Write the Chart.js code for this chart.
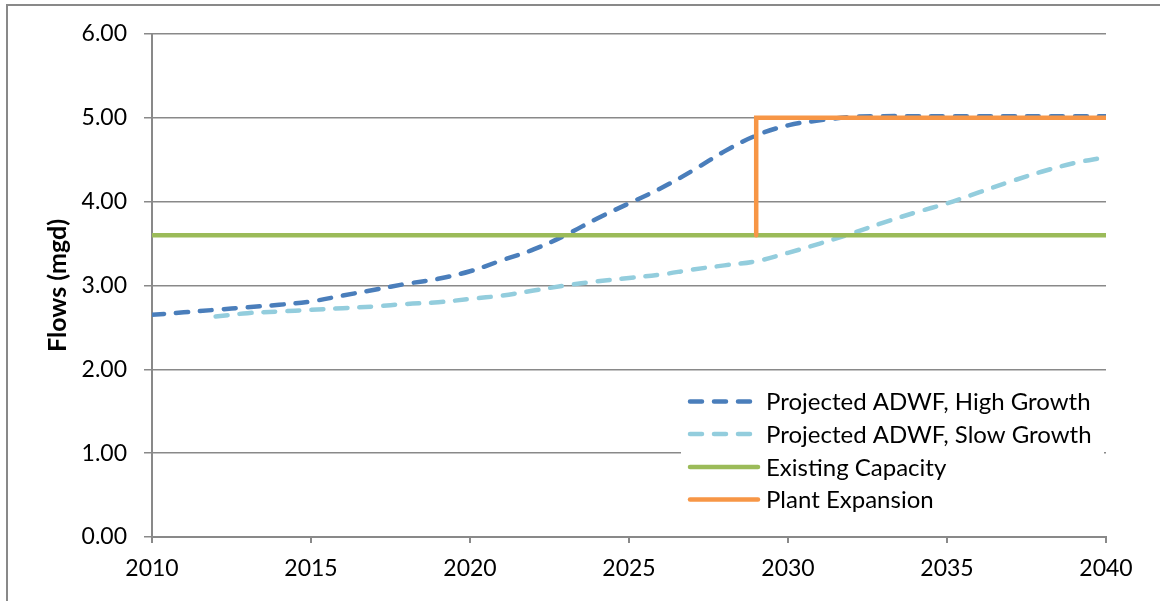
<!DOCTYPE html>
<html>
<head>
<meta charset="utf-8">
<title>Projected ADWF and Plant Capacity</title>
<script src="https://cdn.jsdelivr.net/npm/chart.js@4.4.1/dist/chart.umd.min.js"></script>
<style>
  html, body { margin: 0; padding: 0; background: #ffffff; }
  #wrap { width: 1160px; height: 601px; position: relative; overflow: hidden; }
  canvas { display: block; }
</style>
</head>
<body>
<div id="wrap"><canvas id="flows" width="1160" height="601"></canvas></div>
<script>
// ---- data ----
const years = [2010, 2011, 2012, 2013, 2014, 2015, 2016, 2017, 2018, 2019, 2020,
               2021, 2022, 2023, 2024, 2025, 2026, 2027, 2028, 2029, 2030,
               2031, 2032, 2033, 2034, 2035, 2036, 2037, 2038, 2039, 2040];
const highGrowth = [2.65, 2.68, 2.71, 2.74, 2.77, 2.81, 2.88, 2.95, 3.02, 3.08, 3.17,
                    3.30, 3.43, 3.60, 3.80, 3.98, 4.16, 4.37, 4.60, 4.79, 4.91,
                    4.97, 5.01, 5.02, 5.02, 5.02, 5.02, 5.02, 5.02, 5.02, 5.02];
const slowYears = [2012, 2013, 2014, 2015, 2016, 2017, 2018, 2019, 2020,
                   2021, 2022, 2023, 2024, 2025, 2026, 2027, 2028, 2029, 2030,
                   2031, 2032, 2033, 2034, 2035, 2036, 2037, 2038, 2039, 2040];
const slowGrowth = [2.63, 2.67, 2.69, 2.71, 2.73, 2.75, 2.78, 2.80, 2.84,
                    2.88, 2.94, 3.00, 3.05, 3.09, 3.13, 3.19, 3.24, 3.29, 3.39,
                    3.50, 3.62, 3.75, 3.87, 3.98, 4.11, 4.24, 4.36, 4.46, 4.53];
const capacityYears = [2010, 2040];
const capacity = [3.6, 3.6];
const expansionYears = [2029, 2029, 2040];
const expansion = [3.6, 5.0, 5.0];

const seriesNames = ['Projected ADWF, High Growth', 'Projected ADWF, Slow Growth',
                     'Existing Capacity', 'Plant Expansion'];
const xTickLabels = [2010, 2015, 2020, 2025, 2030, 2035, 2040];
const yTickLabels = [0, 1, 2, 3, 4, 5, 6];
const yAxisTitle = 'Flows (mgd)';

// ---- helpers ----
const toPoints = (xs, ys) => xs.map((x, i) => ({ x: x, y: ys[i] }));
const GRID = '#898989';
const FONT = 'Lato, "Open Sans", sans-serif';

// outer frame around the chart
const frame = {
  id: 'frame',
  beforeDraw(chart) {
    const ctx = chart.ctx;
    ctx.save();
    ctx.fillStyle = '#ffffff';
    ctx.fillRect(0, 0, chart.width, chart.height);
    ctx.strokeStyle = GRID;
    ctx.lineWidth = 2;
    ctx.strokeRect(7, 5, chart.width + 20, chart.height + 20);
    ctx.restore();
  }
};

// legend drawn inside the plot, lower right
const insideLegend = {
  id: 'insideLegend',
  afterDraw(chart) {
    const ctx = chart.ctx;
    const rows = [401.5, 434, 467, 499.5];
    const x0 = 690, x1 = 758, tx = 766;
    ctx.save();
    ctx.fillStyle = '#ffffff';
    ctx.fillRect(681, 384, 423, 130);
    chart.data.datasets.forEach((ds, i) => {
      const y = rows[i];
      ctx.beginPath();
      ctx.strokeStyle = ds.borderColor;
      ctx.lineWidth = ds.borderWidth;
      ctx.lineCap = 'round';
      ctx.setLineDash(ds.borderDash || []);
      ctx.moveTo(x0, y);
      ctx.lineTo(ds.borderDash ? 751 : x1, y);
      ctx.stroke();
      ctx.setLineDash([]);
      ctx.fillStyle = '#000000';
      ctx.font = '24px ' + FONT;
      ctx.textBaseline = 'middle';
      ctx.textAlign = 'left';
      ctx.fillText(ds.label, tx, y + 1);
    });
    ctx.restore();
  }
};

const dashed = { borderWidth: 4.5, borderDash: [12, 12], borderCapStyle: 'round',
                 tension: 0.4, pointRadius: 0, fill: false };
const solid = { borderWidth: 4.5, borderCapStyle: 'round', tension: 0,
                pointRadius: 0, fill: false };

new Chart(document.getElementById('flows'), {
  type: 'line',
  data: {
    datasets: [
      Object.assign({ label: seriesNames[0], data: toPoints(years, highGrowth),
                      borderColor: '#4a7ebb', order: 4 }, dashed),
      Object.assign({ label: seriesNames[1], data: toPoints(slowYears, slowGrowth),
                      borderColor: '#93cddd', order: 3 }, dashed),
      Object.assign({ label: seriesNames[2], data: toPoints(capacityYears, capacity),
                      borderColor: '#9bbb59', order: 2 }, solid),
      Object.assign({ label: seriesNames[3], data: toPoints(expansionYears, expansion),
                      borderColor: '#f79646', order: 1, borderJoinStyle: 'miter' }, solid)
    ]
  },
  options: {
    responsive: false,
    animation: false,
    devicePixelRatio: 1,
    layout: { padding: { left: 24, right: 54, top: 34, bottom: 0 } },
    plugins: {
      legend: { display: false },
      tooltip: { enabled: false }
    },
    scales: {
      x: {
        type: 'linear',
        min: xTickLabels[0],
        max: xTickLabels[xTickLabels.length - 1],
        afterBuildTicks: s => { s.ticks = xTickLabels.map(v => ({ value: v })); },
        afterFit: s => { s.height = 64; },
        border: { display: true, color: GRID, width: 2 },
        grid: { drawOnChartArea: false, drawTicks: true, tickLength: 6,
                color: GRID, lineWidth: 2 },
        ticks: { color: '#000000', padding: 12, maxRotation: 0,
                 font: { family: FONT, size: 23 },
                 callback: v => String(v) }
      },
      y: {
        min: yTickLabels[0],
        max: yTickLabels[yTickLabels.length - 1],
        afterBuildTicks: s => { s.ticks = yTickLabels.map(v => ({ value: v })); },
        afterFit: s => { s.width = 152 - 24; },
        border: { display: true, color: GRID, width: 2 },
        grid: { color: GRID, lineWidth: 1.5, tickLength: 8, drawTicks: true },
        ticks: { color: '#000000', padding: 17,
                 font: { family: FONT, size: 23 },
                 callback: v => Number(v).toFixed(2) },
        title: { display: true, text: yAxisTitle, color: '#000000',
                 padding: { top: 19, bottom: 0 },
                 font: { family: FONT, size: 25, weight: 'bold' } }
      }
    }
  },
  plugins: [frame, insideLegend]
});
</script>
</body>
</html>
